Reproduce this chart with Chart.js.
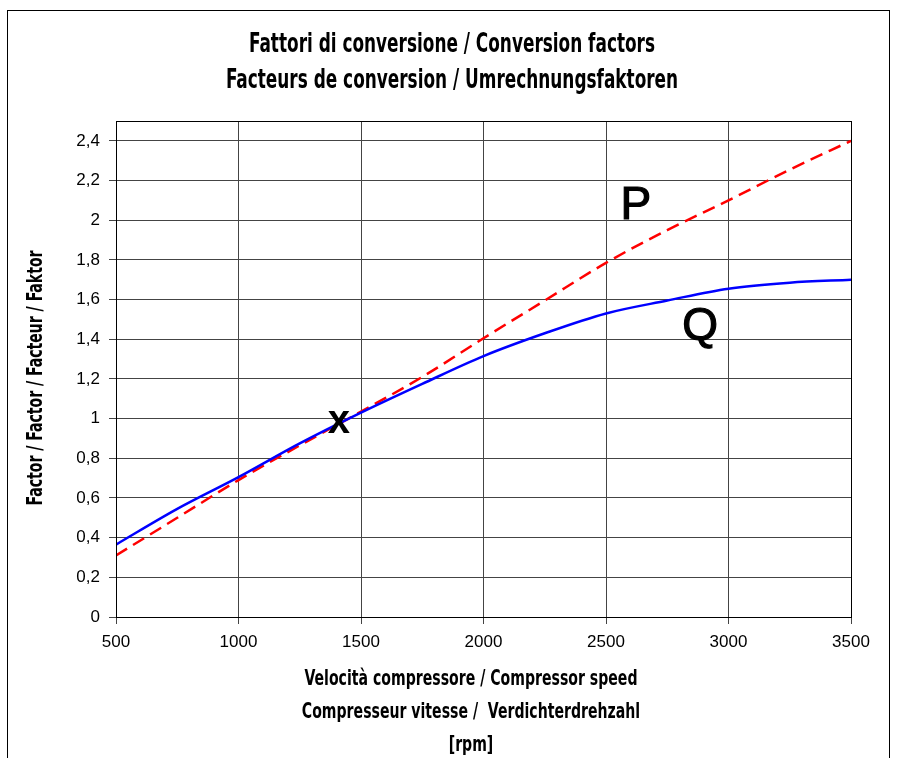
<!DOCTYPE html>
<html>
<head>
<meta charset="utf-8">
<script src="https://cdn.jsdelivr.net/npm/chart.js@4/dist/chart.umd.min.js"></script>
<style>
  body { margin: 0; background: #fff; }
  #wrap { width: 898px; height: 758px; position: relative; }
</style>
</head>
<body>
<div id="wrap"><canvas id="chart" width="898" height="758"></canvas></div>
<script>
"use strict";

// compressor speed (rpm)
const speeds = [500, 750, 1000, 1250, 1500, 1750, 2000, 2250, 2500, 2750, 3000, 3250, 3500];
// conversion factor Q (blue solid)
const q_values = [0.365, 0.545, 0.705, 0.875, 1.03, 1.175, 1.315, 1.43, 1.53, 1.595, 1.655, 1.685, 1.70];
// conversion factor P (red dashed)
const p_values = [0.31, 0.50, 0.69, 0.865, 1.035, 1.21, 1.405, 1.595, 1.785, 1.95, 2.10, 2.255, 2.40];

const title_lines = ['Fattori di conversione / Conversion factors', 'Facteurs de conversion / Umrechnungsfaktoren'];
const x_title_lines = ['Velocità compressore / Compressor speed', 'Compresseur vitesse /  Verdichterdrehzahl', '[rpm]'];
const y_title = 'Factor / Factor / Facteur / Faktor';

// curve labels: text, rpm, factor
const curve_labels = [
  { text: 'P', x: 2622, y: 2.07, font: '46px "Liberation Sans", Arial, sans-serif', stroke: 1.2 },
  { text: 'Q', x: 2884, y: 1.46, font: '46px "Liberation Sans", Arial, sans-serif', stroke: 1.2 },
  { text: 'x', x: 1410, y: 0.985, font: 'bold 40px "Liberation Sans", Arial, sans-serif', stroke: 0 },
];

const narrow = '"DejaVu Sans Condensed", "DejaVu Sans", sans-serif';
const plain = '"Liberation Sans", Arial, sans-serif';

const to_points = (values) => values.map((v, i) => ({ x: speeds[i], y: v }));
const comma = (v) => (Math.round(v * 10) / 10).toString().replace('.', ',');

// draw a block of lines squeezed horizontally so the first line has the given width
function draw_squeezed(ctx, lines, cx, cy, line_h, font, width, rotate) {
  ctx.save();
  ctx.font = font;
  const sx = width / ctx.measureText(lines[0]).width;
  ctx.translate(cx, cy);
  if (rotate) ctx.rotate(-Math.PI / 2);
  ctx.scale(sx, 1);
  ctx.fillStyle = '#000';
  ctx.textAlign = 'center';
  ctx.textBaseline = 'middle';
  lines.forEach((line, i) => ctx.fillText(line, 0, i * line_h));
  ctx.restore();
}

const frame_plugin = {
  id: 'frame',
  beforeDraw(chart) {
    const ctx = chart.ctx;
    ctx.save();
    ctx.fillStyle = '#fff';
    ctx.fillRect(0, 0, chart.width, chart.height);
    ctx.strokeStyle = '#000';
    ctx.lineWidth = 1;
    ctx.strokeRect(7.5, 10.5, 882, 800);
    ctx.restore();

    draw_squeezed(ctx, title_lines, 452, 45, 36, 'bold 27px ' + narrow, 406, false);
    draw_squeezed(ctx, x_title_lines, 471, 679, 33, 'bold 22px ' + narrow, 333, false);
    draw_squeezed(ctx, [y_title], 36, 378, 0, 'bold 22px ' + narrow, 255, true);
  },
  afterDatasetsDraw(chart) {
    const ctx = chart.ctx;
    const area = chart.chartArea;
    ctx.save();
    ctx.strokeStyle = '#000';
    ctx.lineWidth = 1;
    ctx.strokeRect(Math.round(area.left) + 0.5, Math.round(area.top) + 0.5,
      Math.round(area.right - area.left), Math.round(area.bottom - area.top));

    ctx.fillStyle = '#000';
    ctx.textAlign = 'center';
    ctx.textBaseline = 'middle';
    for (const lbl of curve_labels) {
      const px = chart.scales.x.getPixelForValue(lbl.x);
      const py = chart.scales.y.getPixelForValue(lbl.y);
      ctx.font = lbl.font;
      ctx.fillText(lbl.text, px, py);
      if (lbl.stroke) {
        ctx.lineWidth = lbl.stroke;
        ctx.strokeText(lbl.text, px, py);
      }
    }
    ctx.restore();
  },
};

var chart = new Chart(document.getElementById('chart'), {
  type: 'line',
  data: {
    datasets: [
      {
        label: 'Q',
        data: to_points(q_values),
        borderColor: '#0000ff',
        borderWidth: 2.5,
        pointRadius: 0,
        cubicInterpolationMode: 'monotone',
        fill: false,
      },
      {
        label: 'P',
        data: to_points(p_values),
        borderColor: '#ff0000',
        borderWidth: 2.5,
        borderDash: [13, 7],
        pointRadius: 0,
        cubicInterpolationMode: 'monotone',
        fill: false,
      },
    ],
  },
  options: {
    responsive: false,
    animation: false,
    layout: { padding: { top: 121, left: 0, right: 0, bottom: 0 } },
    plugins: {
      legend: { display: false },
      tooltip: { enabled: false },
      title: { display: false },
    },
    scales: {
      x: {
        type: 'linear',
        min: 500,
        max: 3500,
        afterFit: (s) => { s.height = 141; },
        ticks: {
          stepSize: 500,
          color: '#000',
          font: { family: plain, size: 17 },
          padding: 8,
          maxRotation: 0,
          callback: (v) => String(v),
        },
        grid: { color: '#444', lineWidth: 1, tickLength: 7 },
        border: { color: '#000' },
        title: { display: false },
      },
      y: {
        min: 0,
        max: 2.5,
        afterFit: (s) => { s.width = 116; },
        afterBuildTicks: (s) => {
          s.ticks = s.ticks.filter(t => Math.abs(t.value * 5 - Math.round(t.value * 5)) < 1e-6);
        },
        ticks: {
          stepSize: 0.2,
          color: '#000',
          font: { family: plain, size: 17 },
          padding: 9,
          callback: (v) => comma(v),
        },
        grid: { color: '#444', lineWidth: 1, tickLength: 7 },
        border: { color: '#000' },
        title: { display: false },
      },
      y_right: {
        position: 'right',
        display: true,
        afterFit: (s) => { s.width = 47; },
        ticks: { display: false },
        grid: { display: false, drawOnChartArea: false },
        border: { display: false },
      },
    },
  },
  plugins: [frame_plugin],
});
</script>
</body>
</html>
